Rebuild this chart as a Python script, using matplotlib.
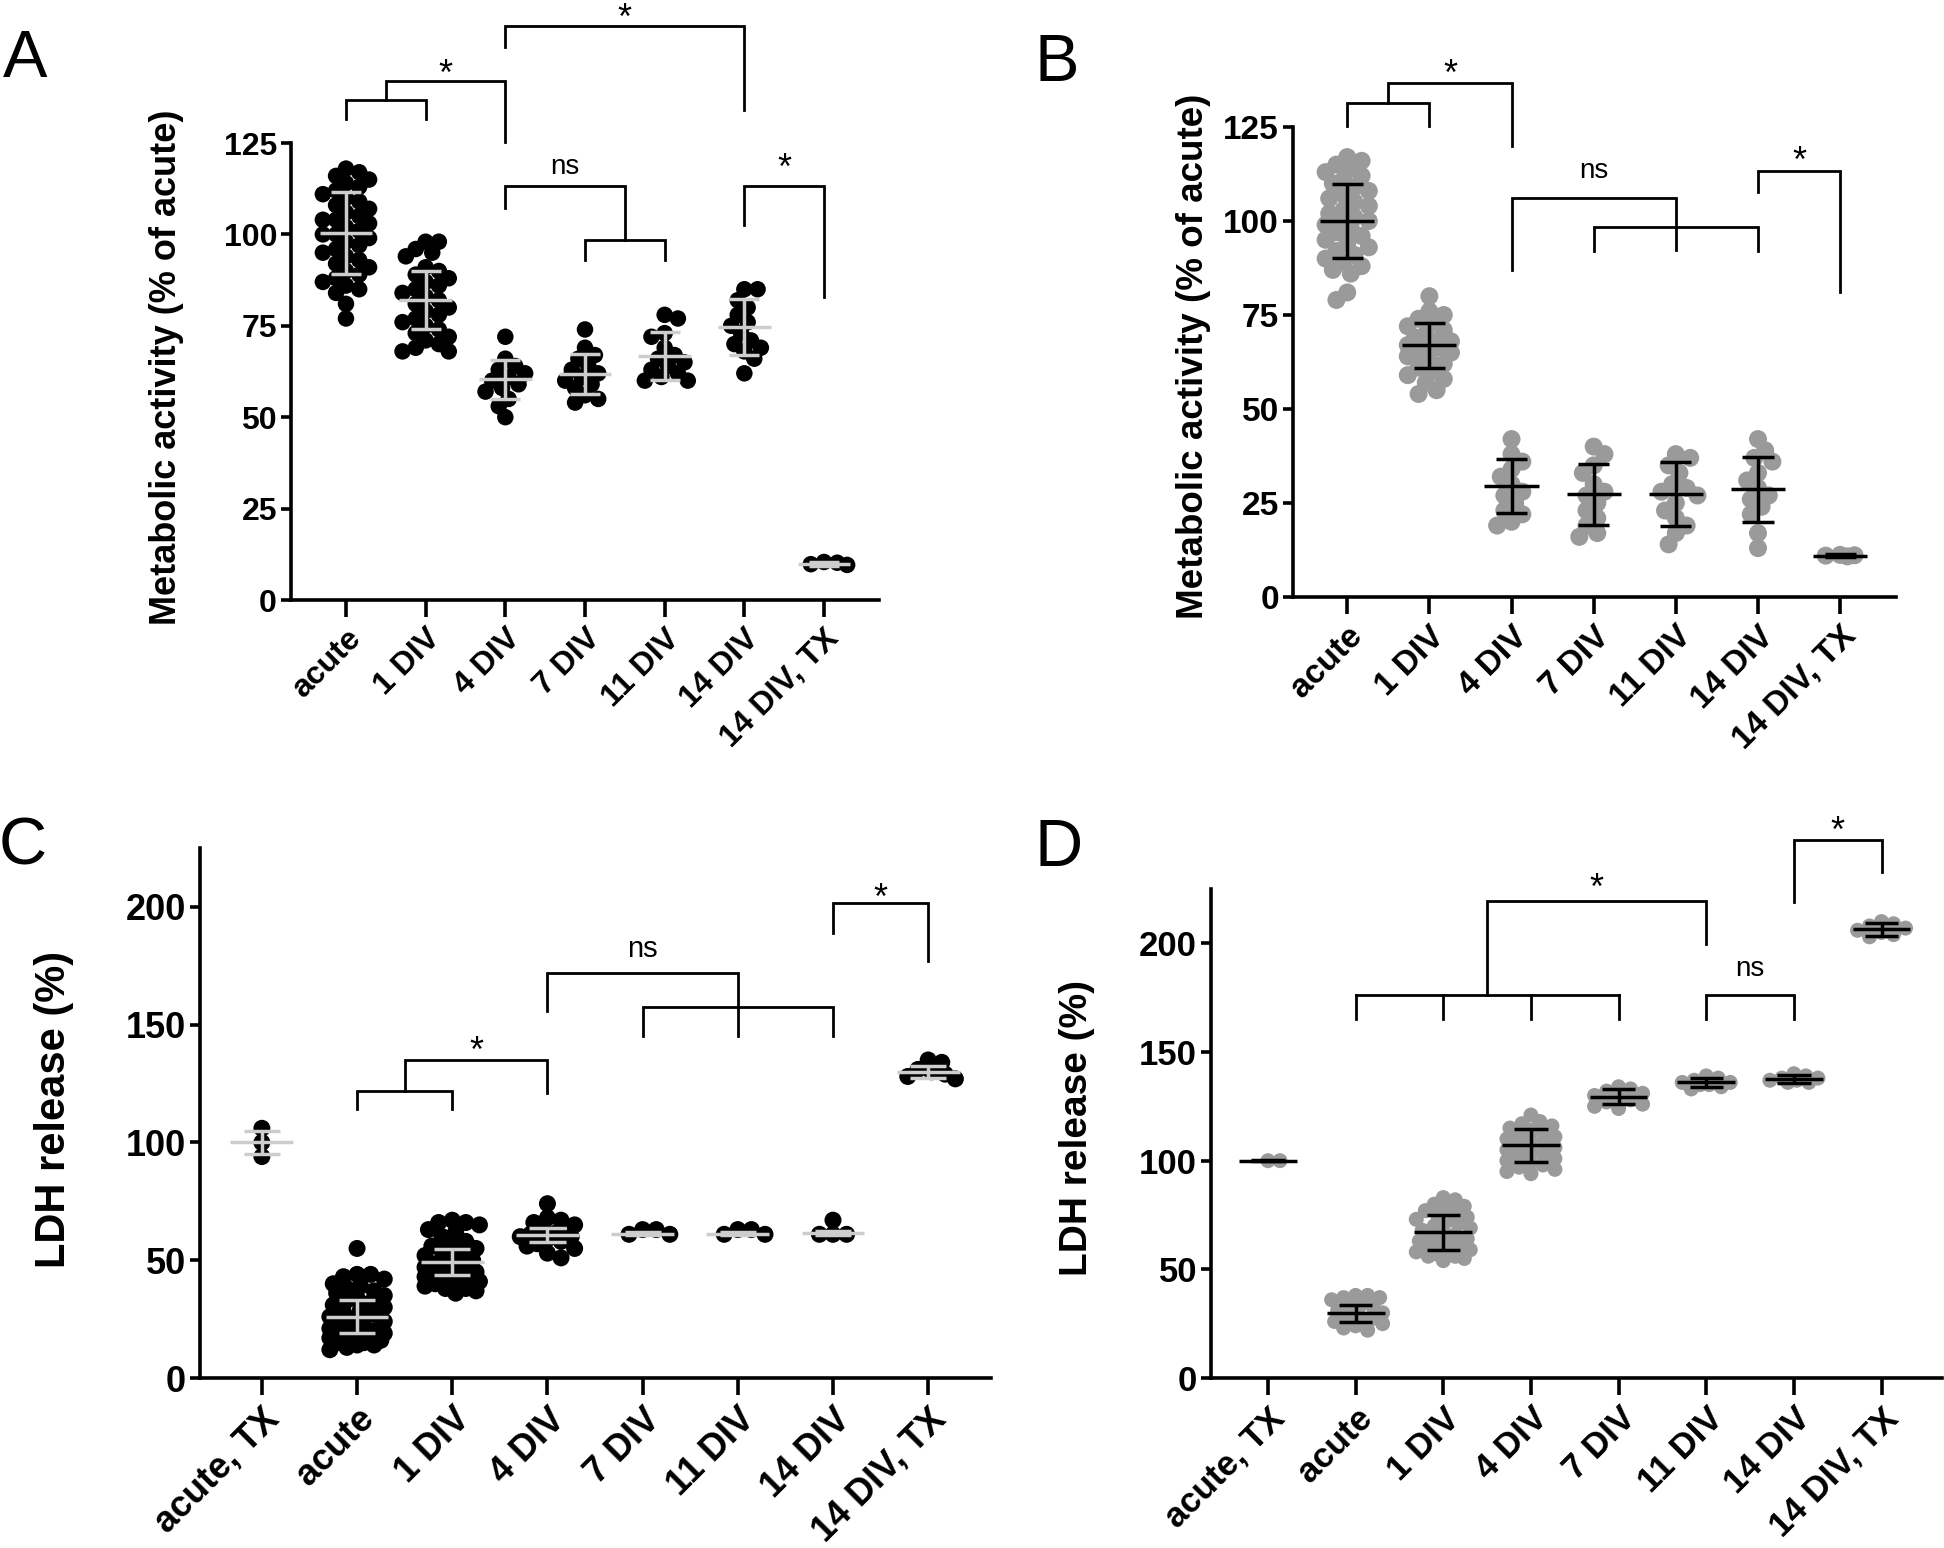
import numpy as np
import matplotlib
matplotlib.use('Agg')
import matplotlib.pyplot as plt

plt.rcParams['font.family'] = ['Liberation Sans', 'DejaVu Sans']

W, H, DPI = 1944, 1548, 100

# ---------------- data ----------------
cats_AB = ['acute', '1 DIV', '4 DIV', '7 DIV', '11 DIV', '14 DIV', '14 DIV, TX']
cats_CD = ['acute, TX', 'acute', '1 DIV', '4 DIV', '7 DIV', '11 DIV', '14 DIV', '14 DIV, TX']

# A: metabolic activity (black dots, grey mean +/- SD)
A_acute = [118, 117, 116, 115, 114, 113, 112, 111, 110, 109, 108, 107, 106, 105, 104, 104, 103, 102, 101,
           100, 100, 99, 98, 97, 96, 95, 94, 93, 92, 91, 90, 89, 88, 87, 86, 85, 84, 81, 77]
A_1div = [98, 98, 96, 95, 94, 91, 90, 89, 88, 87, 86, 85, 84, 83, 82, 81, 80, 79, 78, 77, 76, 75, 74, 73,
          72, 71, 70, 69, 68, 68]
A_4div = [72, 66, 64, 63, 62, 61, 60, 59, 58, 57, 55, 53, 50]
A_7div = [74, 69, 67, 66, 64, 63, 62, 61, 60, 59, 58, 56, 55, 54]
A_11div = [78, 77, 73, 72, 69, 67, 66, 65, 64, 63, 62, 61, 60, 60]
A_14div = [85, 85, 82, 80, 78, 76, 75, 73, 71, 70, 69, 68, 66, 62]
A_14tx = [10.4, 9.6, 9.8, 10.2]
A_mean = [100.4, 82, 60.4, 61.8, 66.8, 74.6, 9.9]
A_sd = [11.2, 7.9, 5.3, 5.5, 6.5, 7.6, 0.5]

# B: metabolic activity (grey dots, black mean +/- SD)
B_acute = [117, 116, 115, 114, 113, 112, 111, 110, 109, 108, 107, 106, 105, 104, 103, 102, 101, 100, 100,
           99, 98, 97, 96, 95, 94, 93, 92, 91, 90, 89, 88, 87, 86, 81, 79]
B_1div = [80, 76, 75, 74, 73, 72, 71, 70, 69, 68, 68, 67, 67, 66, 66, 65, 65, 64, 63, 62, 61, 60, 59, 58,
          57, 55, 54]
B_4div = [42, 38, 36, 34, 32, 30, 28, 27, 25, 23, 22, 20, 19]
B_7div = [40, 38, 35, 33, 30, 28, 27, 25, 23, 21, 19, 17, 16]
B_11div = [38, 37, 35, 33, 30, 29, 28, 27, 25, 23, 21, 19, 17, 14]
B_14div = [42, 39, 37, 36, 33, 31, 29, 27, 26, 24, 22, 17, 13]
B_14tx = [11.2, 10.8, 11.0, 11.1]
B_mean = [100, 67, 29.5, 27.3, 27.5, 28.6, 11]
B_sd = [9.8, 6, 7.2, 8.2, 8.5, 8.6, 0.4]

# C: LDH release (black dots, grey mean +/- SD)
C_acutetx = [106, 100, 94]
C_acute = [55, 44, 44, 43, 42, 40, 39, 38, 37, 36, 35, 34, 33, 32, 31, 30, 29, 28, 27, 26, 25, 24, 23, 22,
           21, 20, 20, 19, 18, 18, 17, 17, 16, 16, 15, 15, 14, 14, 13, 12]
C_1div = [67, 66, 66, 65, 63, 62, 60, 58, 57, 56, 55, 54, 53, 52, 51, 50, 49, 48, 47, 46, 45, 44, 44, 43,
          42, 42, 41, 40, 40, 39, 38, 38, 37, 36]
C_4div = [74, 68, 67, 66, 65, 63, 62, 61, 60, 60, 59, 58, 57, 56, 55, 53, 51]
C_7div = [63, 61, 61, 63]
C_11div = [63, 61, 61, 63]
C_14div = [61, 61, 61, 67]
C_14tx = [135, 134, 131, 130, 129, 128, 127]
C_mean = [100, 26, 49.3, 60.8, 61.3, 61.3, 61.5, 130]
C_sd = [5, 7, 5.5, 2.9, 0.8, 0.8, 0.8, 2.5]

# D: LDH release (grey dots, black mean +/- SD)
D_acutetx = [100, 100]
D_acute = [38, 38, 37, 37, 36, 34, 33, 32, 31, 30, 29, 28, 27, 26, 25, 24, 23, 22]
D_1div = [83, 82, 80, 79, 78, 77, 76, 75, 74, 73, 72, 71, 70, 69, 68, 67, 66, 65, 64, 63, 62, 62, 61, 60,
          60, 59, 58, 58, 57, 56, 56, 55, 54]
D_4div = [121, 118, 117, 116, 115, 114, 113, 112, 111, 110, 109, 108, 107, 106, 105, 104, 103, 102, 101,
          100, 99, 98, 97, 96, 95, 94]
D_7div = [134, 133, 132, 131, 130, 129, 128, 127, 126, 125, 124]
D_11div = [139, 138, 137, 136, 136, 135, 135, 134, 133]
D_14div = [140, 139, 138, 137, 137, 136, 136, 138]
D_14tx = [210, 209, 208, 207, 206, 205, 204, 203]
D_mean = [100, 29.8, 67, 107.1, 129.5, 136, 137.5, 206.5]
D_sd = [0.3, 3.9, 8, 7.7, 3.4, 2, 1.9, 3]

fig = plt.figure(figsize=(W / DPI, H / DPI), dpi=DPI)


def px_axes(l, r, b, t):
    # axes box given in pixels from top-left of the figure
    return fig.add_axes([l / W, 1 - b / H, (r - l) / W, (b - t) / H])


def swarm(ax, xc, vals, dot_px, half=0.4):
    # beeswarm limited to +/- half category; overlaps allowed when it gets crowded
    x0 = ax.transData.transform((0, 0))[0]
    x1 = ax.transData.transform((1, 0))[0]
    xppu = x1 - x0
    maxw = half * xppu - dot_px / 2
    mind = 0.72 * dot_px
    step = 0.2 * dot_px
    nk = int(maxw // step)
    placed = []
    out = np.zeros(len(vals))
    order = np.argsort(vals)[::-1]
    flip = 1
    for i in order:
        ypx = ax.transData.transform((xc, vals[i]))[1]
        cands = [0.0]
        for k in range(1, nk + 1):
            cands += [flip * k * step, -flip * k * step]
        best, best_d = 0.0, -1
        hit = None
        for c in cands:
            d = min([np.hypot(c - px, ypx - py) for px, py in placed] + [1e9])
            if d >= mind:
                hit = c
                break
            if d > best_d + 0.5:
                best, best_d = c, d
        if hit is None:
            hit = best
        if hit != 0:
            flip = -flip
        placed.append((hit, ypx))
        out[i] = xc + hit / xppu
    return out


def panel(ax, groups, means, sds, cats, xlim, ylim, yticks, dot_col, bar_col, dot_px,
          fs_tick, fs_lab, ylabel, lab_xy):
    ax.set_xlim(*xlim)
    ax.set_ylim(*ylim)
    ms = dot_px * 72 / DPI
    for i, vals in enumerate(groups):
        xs = swarm(ax, i, vals, dot_px)
        ax.scatter(xs, vals, s=ms ** 2, color=dot_col, edgecolors='none', zorder=2, clip_on=False)
    for i, (m, s) in enumerate(zip(means, sds)):
        kw = dict(color=bar_col, lw=2.5, zorder=3, solid_capstyle='butt', clip_on=False)
        ax.plot([i - 0.33, i + 0.33], [m, m], **kw)
        ax.plot([i, i], [m - s, m + s], **kw)
        ax.plot([i - 0.19, i + 0.19], [m + s, m + s], **kw)
        ax.plot([i - 0.19, i + 0.19], [m - s, m - s], **kw)
    for sp in ['top', 'right']:
        ax.spines[sp].set_visible(False)
    for sp in ['left', 'bottom']:
        ax.spines[sp].set_linewidth(2.6)
    ax.set_yticks(yticks)
    ax.set_yticklabels([str(v) for v in yticks], fontsize=fs_tick, fontweight='bold')
    ax.set_xticks(range(len(cats)))
    ax.set_xticklabels(cats, rotation=45, ha='right', va='top', rotation_mode='anchor',
                       fontsize=fs_tick, fontweight='bold')
    ax.tick_params(axis='x', length=12, width=2.6, pad=5)
    ax.tick_params(axis='y', length=7, width=2.6, pad=3)
    ax.set_ylabel(ylabel, fontsize=fs_lab, fontweight='bold')
    ax.yaxis.set_label_coords(*lab_xy)


def bracket(ax, x1, x2, y, h1, h2):
    ax.plot([x1, x1, x2, x2], [h1, y, y, h2], color='black', lw=2.0, clip_on=False,
            solid_joinstyle='miter', zorder=4)


def star(ax, x, y, txt='*', fs=26):
    off = -0.57 * fs if txt == '*' else -0.27 * fs
    ax.annotate(txt, xy=(x, y), xytext=(0, off), textcoords='offset points', ha='center',
                va='baseline', fontsize=fs, annotation_clip=False)


# ---------------- A ----------------
axA = px_axes(291, 879, 600, 143)
panel(axA, [A_acute, A_1div, A_4div, A_7div, A_11div, A_14div, A_14tx], A_mean, A_sd, cats_AB,
      (-0.69, 6.69), (0, 125), [0, 25, 50, 75, 100, 125], 'black', '#cdcdcd', 16.5,
      23, 26, 'Metabolic activity (% of acute)', (-0.182, 0.51))
bracket(axA, 0, 1, 136.8, 131.6, 131.6)
bracket(axA, 0.5, 2, 142, 136.8, 125.3)
star(axA, 1.25, 146.6)
bracket(axA, 2, 5, 157, 151.2, 134)
star(axA, 3.5, 161.7)
bracket(axA, 2, 3.5, 113.3, 107.2, 98.5)
bracket(axA, 3, 4, 98.5, 93, 93)
star(axA, 2.75, 118.7, 'ns', 20)
bracket(axA, 5, 6, 113.3, 102.5, 83)
star(axA, 5.5, 120.8)

# ---------------- B ----------------
axB = px_axes(1293, 1896, 597, 127)
panel(axB, [B_acute, B_1div, B_4div, B_7div, B_11div, B_14div, B_14tx], B_mean, B_sd, cats_AB,
      (-0.66, 6.68), (0, 125), [0, 25, 50, 75, 100, 125], '#9a9a9a', 'black', 18,
      24, 26.5, 'Metabolic activity (% of acute)', (-0.136, 0.513))
bracket(axB, 0, 1, 131.5, 125.2, 125.2)
bracket(axB, 0.5, 2, 136.7, 131.5, 120)
star(axB, 1.25, 141.7)
bracket(axB, 2, 4, 106.1, 87, 92.3)
bracket(axB, 3, 5, 98.5, 91.9, 91.9)
star(axB, 3, 113.5, 'ns', 20)
bracket(axB, 5, 6, 113.4, 107.7, 81)
star(axB, 5.5, 118.6)

# ---------------- C ----------------
axC = px_axes(200, 991, 1378, 848)
panel(axC, [C_acutetx, C_acute, C_1div, C_4div, C_7div, C_11div, C_14div, C_14tx], C_mean, C_sd, cats_CD,
      (-0.65, 7.66), (0, 225), [0, 50, 100, 150, 200], 'black', '#cdcdcd', 17,
      26, 30, 'LDH release (%)', (-0.159, 0.506))
bracket(axC, 1, 2, 122, 114, 114)
bracket(axC, 1.5, 3, 135, 122, 121)
star(axC, 2.25, 143)
bracket(axC, 3, 5, 172, 156, 145)
bracket(axC, 4, 6, 157.7, 145, 145)
star(axC, 4, 181.9, 'ns', 21)
bracket(axC, 6, 7, 201.8, 189, 177)
star(axC, 6.5, 207.7)

# ---------------- D ----------------
axD = px_axes(1211, 1942, 1378, 889)
panel(axD, [D_acutetx, D_acute, D_1div, D_4div, D_7div, D_11div, D_14div, D_14tx], D_mean, D_sd, cats_CD,
      (-0.65, 7.69), (0, 225), [0, 50, 100, 150, 200], '#9a9a9a', 'black', 15,
      25, 28, 'LDH release (%)', (-0.159, 0.512))
axD.plot([1, 4], [176.4, 176.4], color='black', lw=2.0, clip_on=False, zorder=4)
for xx in [1, 2, 3, 4]:
    axD.plot([xx, xx], [165, 176.4], color='black', lw=2.0, clip_on=False, zorder=4)
bracket(axD, 2.5, 5, 219.7, 176.4, 199.9)
star(axD, 3.75, 229.9)
bracket(axD, 5, 6, 176.4, 165, 165)
star(axD, 5.5, 188.5, 'ns', 20)
bracket(axD, 6, 7, 247.4, 219, 232.6)
star(axD, 6.5, 256)

# panel letters
for lab, x, y in [('A', 25, 60), ('B', 1057, 64), ('C', 23, 847), ('D', 1059, 849)]:
    fig.text(x / W, 1 - y / H, lab, fontsize=48, ha='center', va='center')

fig.savefig('out.png', dpi=DPI)
